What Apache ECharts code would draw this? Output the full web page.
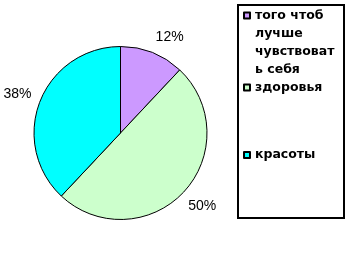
<!DOCTYPE html>
<html><head><meta charset="utf-8">
<script src="https://cdn.jsdelivr.net/npm/echarts@6/dist/echarts.min.js"></script>
<style>html,body{margin:0;padding:0;background:#fff}#c{width:355px;height:266px}</style>
</head><body><div id="c"></div>
<script>
const categories = ["того чтоб лучше чувствовать себя", "здоровья", "красоты"];
const values = [12, 50, 38];
const colors = ["#CC99FF", "#CCFFCC", "#00FFFF"];
const legendLines = {"того чтоб лучше чувствовать себя": ["того чтоб", "лучше", "чувствоват", "ь себя"]};

const chart = echarts.init(document.getElementById('c'), null, {renderer: 'canvas'});
const legendTops = [15.5 - 63, 87.5 - 9, 155 - 9];
const legends = categories.map((name, i) => ({
  data: [name],
  orient: 'vertical',
  left: 243,
  top: legendTops[i],
  padding: 0,
  itemWidth: 6,
  itemHeight: 6,
  icon: 'rect',
  selectedMode: false,
  formatter: n => legendLines[n] ? '\n\n\n' + legendLines[n].join('\n') : n,
  textStyle: {fontFamily: 'DejaVu Sans', fontWeight: 'bold', fontSize: 12.5, color: '#000', lineHeight: 18}
}));
const data = categories.map((name, i) => {
  const d = {name, value: values[i], itemStyle: {color: colors[i]}};
  if (i === 0) d.labelLine = {length: 17, length2: 7};
  return d;
});
chart.setOption({
  animation: false,
  backgroundColor: '#fff',
  legend: legends,
  graphic: [{type: 'rect', shape: {x: 238, y: 5, width: 106, height: 213}, style: {fill: 'none', stroke: '#000', lineWidth: 2}}],
  series: [{
    type: 'pie',
    center: [120.5, 133],
    radius: 86.5,
    startAngle: 90,
    clockwise: true,
    avoidLabelOverlap: false,
    itemStyle: {borderColor: '#000', borderWidth: 1},
    emphasis: {disabled: true},
    label: {show: true, position: 'outside', formatter: p => p.value + '%', fontFamily: 'Liberation Sans', fontSize: 14, color: '#000', distanceToLabelLine: -10},
    labelLine: {show: false, length: 20, length2: 0},
    data: data
  }]
});
</script></body></html>
